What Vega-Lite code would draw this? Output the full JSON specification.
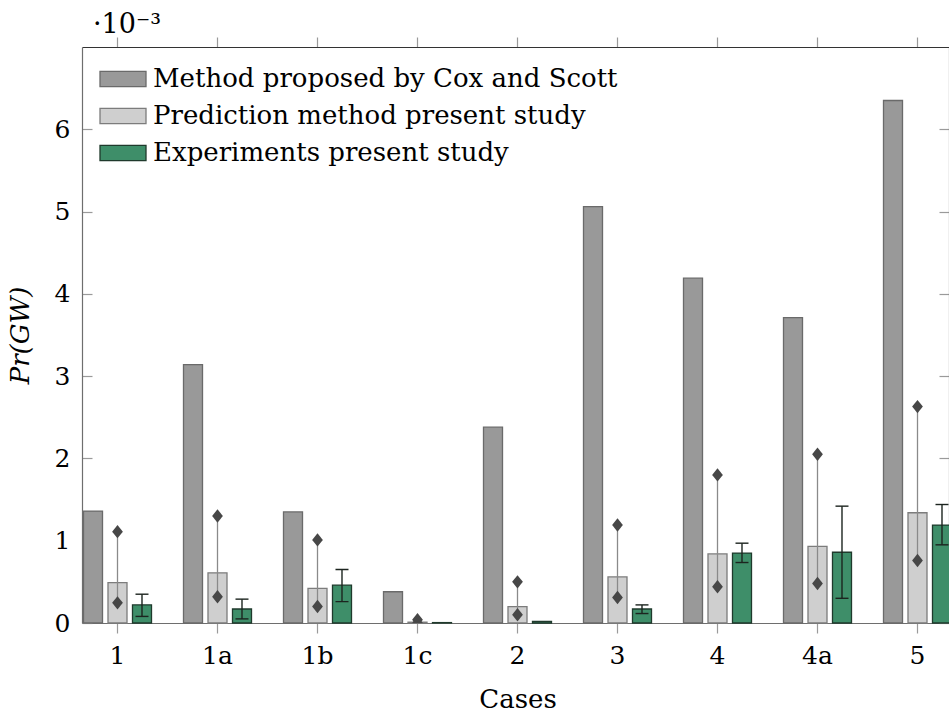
{
  "$schema": "https://vega.github.io/schema/vega-lite/v6.json",
  "autosize": {"type": "none"},
  "width": 867,
  "height": 576,
  "padding": {"left": 82, "top": 47, "right": 0, "bottom": 89},
  "background": "white",
  "config": {
    "view": {"stroke": null},
    "font": "DejaVu Serif",
    "axis": {"grid": false, "labelFont": "DejaVu Serif", "titleFont": "DejaVu Serif", "labelColor": "#000", "titleColor": "#000", "domainColor": "#6e6e6e", "tickColor": "#9a9a9a", "labelFontSize": 25, "titleFontSize": 26, "titleFontWeight": "normal", "domainWidth": 1.2, "tickWidth": 1.2}
  },
  "title": {"text": "·10⁻³", "anchor": "start", "frame": "group", "fontSize": 27, "font": "DejaVu Serif", "fontWeight": "normal", "dx": 11, "offset": -3, "color": "#000"},
  "data": {"values": [
    {"case": "1", "series": "Method proposed by Cox and Scott", "value": 1.36},
    {"case": "1a", "series": "Method proposed by Cox and Scott", "value": 3.14},
    {"case": "1b", "series": "Method proposed by Cox and Scott", "value": 1.35},
    {"case": "1c", "series": "Method proposed by Cox and Scott", "value": 0.38},
    {"case": "2", "series": "Method proposed by Cox and Scott", "value": 2.38},
    {"case": "3", "series": "Method proposed by Cox and Scott", "value": 5.06},
    {"case": "4", "series": "Method proposed by Cox and Scott", "value": 4.19},
    {"case": "4a", "series": "Method proposed by Cox and Scott", "value": 3.71},
    {"case": "5", "series": "Method proposed by Cox and Scott", "value": 6.35},
    {"case": "1", "series": "Prediction method present study", "value": 0.49, "lo": 0.245, "hi": 1.11},
    {"case": "1a", "series": "Prediction method present study", "value": 0.61, "lo": 0.32, "hi": 1.30},
    {"case": "1b", "series": "Prediction method present study", "value": 0.42, "lo": 0.20, "hi": 1.01},
    {"case": "1c", "series": "Prediction method present study", "value": 0.01, "lo": 0.0, "hi": 0.04},
    {"case": "2", "series": "Prediction method present study", "value": 0.20, "lo": 0.10, "hi": 0.50},
    {"case": "3", "series": "Prediction method present study", "value": 0.56, "lo": 0.31, "hi": 1.19},
    {"case": "4", "series": "Prediction method present study", "value": 0.84, "lo": 0.44, "hi": 1.80},
    {"case": "4a", "series": "Prediction method present study", "value": 0.93, "lo": 0.48, "hi": 2.05},
    {"case": "5", "series": "Prediction method present study", "value": 1.34, "lo": 0.76, "hi": 2.63},
    {"case": "1", "series": "Experiments present study", "value": 0.22, "lo": 0.08, "hi": 0.35},
    {"case": "1a", "series": "Experiments present study", "value": 0.17, "lo": 0.05, "hi": 0.29},
    {"case": "1b", "series": "Experiments present study", "value": 0.46, "lo": 0.26, "hi": 0.65},
    {"case": "1c", "series": "Experiments present study", "value": 0.005, "lo": 0.0, "hi": 0.01},
    {"case": "2", "series": "Experiments present study", "value": 0.02, "lo": 0.01, "hi": 0.03},
    {"case": "3", "series": "Experiments present study", "value": 0.17, "lo": 0.115, "hi": 0.22},
    {"case": "4", "series": "Experiments present study", "value": 0.85, "lo": 0.735, "hi": 0.97},
    {"case": "4a", "series": "Experiments present study", "value": 0.86, "lo": 0.30, "hi": 1.42},
    {"case": "5", "series": "Experiments present study", "value": 1.19, "lo": 0.95, "hi": 1.44}
  ]},
  "resolve": {"axis": {"x": "independent", "y": "independent"}},
  "layer": [
    {
      "mark": {"type": "bar", "strokeWidth": 1.3},
      "encoding": {
        "x": {"field": "case", "type": "nominal", "sort": null,
              "scale": {"domain": ["1","1a","1b","1c","2","3","4","4a","5"], "range": [0, 871], "paddingInner": 0.32, "paddingOuter": 0.015},
              "axis": {"orient": "bottom", "title": "Cases", "labelAngle": 0, "tickSize": 10, "labelPadding": 10, "titlePadding": 18}},
        "xOffset": {"field": "series", "type": "nominal",
              "scale": {"domain": ["Method proposed by Cox and Scott", "Prediction method present study", "Experiments present study"], "paddingInner": 0.224, "paddingOuter": 0}},
        "y": {"field": "value", "type": "quantitative",
              "scale": {"domain": [0, 7], "nice": false, "zero": true},
              "axis": {"orient": "left", "title": "Pr(GW)", "titleFontStyle": "italic", "values": [0,1,2,3,4,5,6], "tickSize": -10, "labelPadding": 22, "titlePadding": 21}},
        "fill": {"field": "series", "type": "nominal",
              "scale": {"domain": ["Method proposed by Cox and Scott", "Prediction method present study", "Experiments present study"], "range": ["#999999", "#cfcfcf", "#3e8e69"]},
              "legend": {"title": null, "orient": "top-left", "offset": 8, "padding": 0, "labelFontSize": 26, "labelFont": "DejaVu Serif", "labelColor": "#000", "symbolType": "M-1,-0.335H1V0.335H-1Z", "symbolSize": 2116, "symbolStrokeWidth": 1.3, "symbolOffset": 9, "labelOffset": 6, "rowPadding": -9.3, "labelLimit": 700}},
        "stroke": {"field": "series", "type": "nominal",
              "scale": {"domain": ["Method proposed by Cox and Scott", "Prediction method present study", "Experiments present study"], "range": ["#6a6a6a", "#7c7c7c", "#1f3a2c"]},
              "legend": {"title": null, "orient": "top-left", "offset": 8, "padding": 0, "labelFontSize": 26, "labelFont": "DejaVu Serif", "labelColor": "#000", "symbolType": "M-1,-0.335H1V0.335H-1Z", "symbolSize": 2116, "symbolStrokeWidth": 1.3, "symbolOffset": 9, "labelOffset": 6, "rowPadding": -9.3, "labelLimit": 700}}
      }
    },
    {
      "transform": [{"filter": "datum.series === 'Prediction method present study'"}],
      "mark": {"type": "rule", "color": "#8a8a8a", "strokeWidth": 1.3},
      "encoding": {
        "x": {"field": "case", "type": "nominal", "sort": null, "axis": {"orient": "top", "labels": false, "title": null, "tickSize": 10, "domainColor": "#333333"}},
        "xOffset": {"field": "series", "type": "nominal"},
        "y": {"field": "lo", "type": "quantitative", "axis": {"orient": "right", "labels": false, "title": null, "values": [0,1,2,3,4,5,6], "tickSize": -10}},
        "y2": {"field": "hi"}
      }
    },
    {
      "transform": [{"filter": "datum.series === 'Prediction method present study'"}],
      "mark": {"type": "point", "filled": true, "color": "#474747", "opacity": 1, "shape": "M0,-1L0.8,0L0,1L-0.8,0Z", "size": 180, "clip": true},
      "encoding": {
        "x": {"field": "case", "type": "nominal", "sort": null, "axis": null},
        "xOffset": {"field": "series", "type": "nominal"},
        "y": {"field": "lo", "type": "quantitative", "axis": null}
      }
    },
    {
      "transform": [{"filter": "datum.series === 'Prediction method present study'"}],
      "mark": {"type": "point", "filled": true, "color": "#474747", "opacity": 1, "shape": "M0,-1L0.8,0L0,1L-0.8,0Z", "size": 180, "clip": true},
      "encoding": {
        "x": {"field": "case", "type": "nominal", "sort": null, "axis": null},
        "xOffset": {"field": "series", "type": "nominal"},
        "y": {"field": "hi", "type": "quantitative", "axis": null}
      }
    },
    {
      "transform": [{"filter": "datum.series === 'Experiments present study' && datum.hi - datum.lo > 0.02"}],
      "mark": {"type": "rule", "color": "#1c241f", "strokeWidth": 1.4},
      "encoding": {
        "x": {"field": "case", "type": "nominal", "sort": null, "axis": null},
        "xOffset": {"field": "series", "type": "nominal"},
        "y": {"field": "lo", "type": "quantitative", "axis": null},
        "y2": {"field": "hi"}
      }
    },
    {
      "transform": [{"filter": "datum.series === 'Experiments present study' && datum.hi - datum.lo > 0.02"}],
      "mark": {"type": "tick", "color": "#1c241f", "thickness": 1.4, "size": 13, "opacity": 1},
      "encoding": {
        "x": {"field": "case", "type": "nominal", "sort": null, "axis": null},
        "xOffset": {"field": "series", "type": "nominal"},
        "y": {"field": "lo", "type": "quantitative", "axis": null}
      }
    },
    {
      "transform": [{"filter": "datum.series === 'Experiments present study' && datum.hi - datum.lo > 0.02"}],
      "mark": {"type": "tick", "color": "#1c241f", "thickness": 1.4, "size": 13, "opacity": 1},
      "encoding": {
        "x": {"field": "case", "type": "nominal", "sort": null, "axis": null},
        "xOffset": {"field": "series", "type": "nominal"},
        "y": {"field": "hi", "type": "quantitative", "axis": null}
      }
    }
  ]
}
